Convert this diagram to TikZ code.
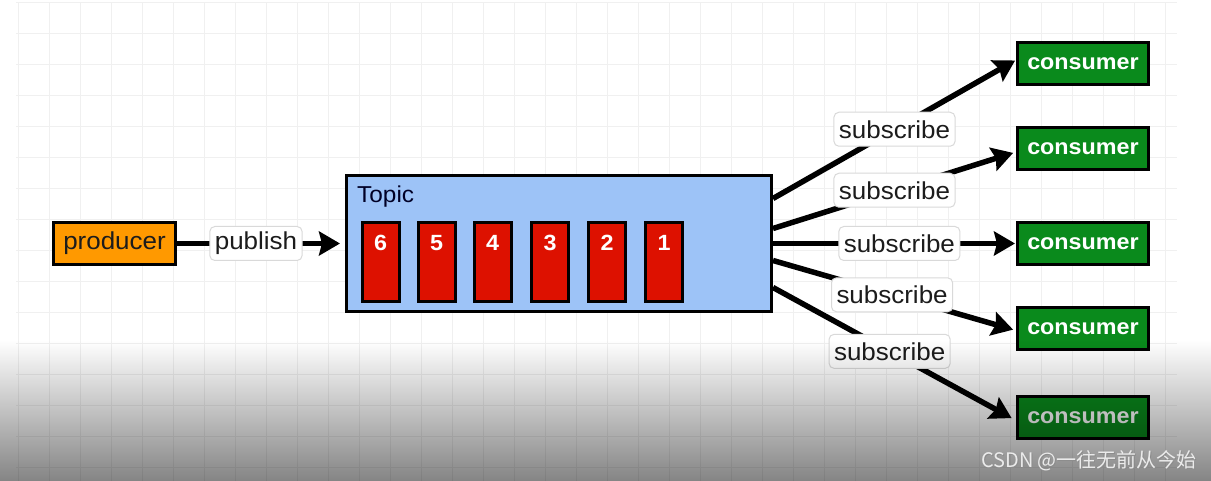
\documentclass[tikz,border=0pt]{standalone}
\usepackage{fontspec}
\setmainfont[FakeStretch=1.06]{Liberation Sans}
\newfontfamily\cjkfont{Noto Sans CJK SC}
\usetikzlibrary{arrows.meta}
\definecolor{orangeP}{HTML}{FF9900}
\definecolor{greenC}{HTML}{0A8A1C}
\definecolor{blueT}{HTML}{9DC3F7}
\definecolor{redS}{HTML}{DD1100}
\definecolor{gridc}{HTML}{F0F0F0}
\definecolor{txtdark}{HTML}{1C1C1C}
\begin{document}
\begin{tikzpicture}[x=1pt,y=-1pt,
  box/.style={draw=black, line width=3pt, inner sep=0pt},
  prodbox/.style={box, fill=orangeP, minimum width=122pt, minimum height=42pt, text=txtdark,
    font=\fontsize{24.5}{28}\selectfont},
  consbox/.style={box, fill=greenC, minimum width=131pt, minimum height=42pt, text=white,
    font=\fontsize{22}{26}\selectfont\bfseries},
  topicbox/.style={box, fill=blueT, minimum width=425pt, minimum height=136pt},
  slotbox/.style={box, fill=redS, minimum width=37pt, minimum height=79pt},
  slotnum/.style={text=white, font=\fontsize{22}{26}\selectfont\bfseries, inner sep=0pt},
  lbl/.style={fill=white, draw=black!15, line width=1pt, rounded corners=5pt, inner xsep=5pt,
    inner ysep=0pt, minimum height=34pt, text=txtdark, font=\fontsize{24.5}{28}\selectfont},
  conn/.style={line width=5.5pt, -{Stealth[length=21pt,width=24pt,inset=3pt]}},
]
\useasboundingbox (0,0) rectangle (1211,481);
\fill[white] (0,0) rectangle (1211,481);
% grid
\foreach \gx in {18,49,...,1177} \draw[gridc, line width=0.7pt] (\gx,3) -- (\gx,481);
\foreach \gy in {2,33,...,481} \draw[gridc, line width=0.7pt] (16,\gy) -- (1177,\gy);

% nodes
\node[prodbox] (producer) at (114.5,243.5) {producer};
\node[topicbox] (topic) at (559,243.5) {};
\node[anchor=north west, inner sep=0pt, text=black!85!blue, font=\fontsize{23}{26}\selectfont] (topiclbl) at (357,186) {Topic};
\foreach \n/\sx in {6/380.5,5/436.5,4/492.5,3/550,2/607,1/664} {
  \node[slotbox] (slot\n) at (\sx,262) {};
  \node[slotnum] (num\n) at (\sx,243) {\n};
}
\node[consbox] (c1) at (1083,64) {consumer};
\node[consbox] (c2) at (1083,149) {consumer};
\node[consbox] (c3) at (1083,243.5) {consumer};
\node[consbox] (c4) at (1083,328.5) {consumer};
\node[consbox] (c5) at (1083,417.5) {consumer};

% connectors
\draw[conn, shorten >=5pt] (producer.east) -- node[lbl, pos=0.47] (pub) {publish} (topic.west);
\draw[conn, shorten >=1pt] ([yshift=45pt]topic.east) -- node[lbl] (s1) {subscribe} ([yshift=4pt]c1.west);
\draw[conn, shorten >=3pt] ([yshift=15pt]topic.east) -- node[lbl] (s2) {subscribe} ([yshift=-3pt]c2.west);
\draw[conn, shorten >=1pt] (topic.east) -- node[lbl, pos=0.52] (s3) {subscribe} (c3.west);
\draw[conn, shorten >=3pt] ([yshift=-17pt]topic.east) -- node[lbl, pos=0.49] (s4) {subscribe} ([yshift=-2pt]c4.west);
\draw[conn, shorten >=5pt] ([yshift=-44pt]topic.east) -- node[lbl, pos=0.48] (s5) {subscribe} ([yshift=-3pt]c5.west);

% bottom darkening
\foreach \i in {0,...,140} {
  \pgfmathsetmacro{\op}{0.48*\i/141}
  \fill[black, opacity=\op] (0,340+\i) rectangle (1211,341+\i);
}
% watermark
\node[text=black!45, font=\cjkfont\fontsize{20}{24}\selectfont, inner sep=0pt] at (1090,462) {CSDN @一往无前从今始};
\node[text=white!92!black, font=\cjkfont\fontsize{20}{24}\selectfont, inner sep=0pt] (wm) at (1089,461) {CSDN @一往无前从今始};
\end{tikzpicture}
\end{document}
